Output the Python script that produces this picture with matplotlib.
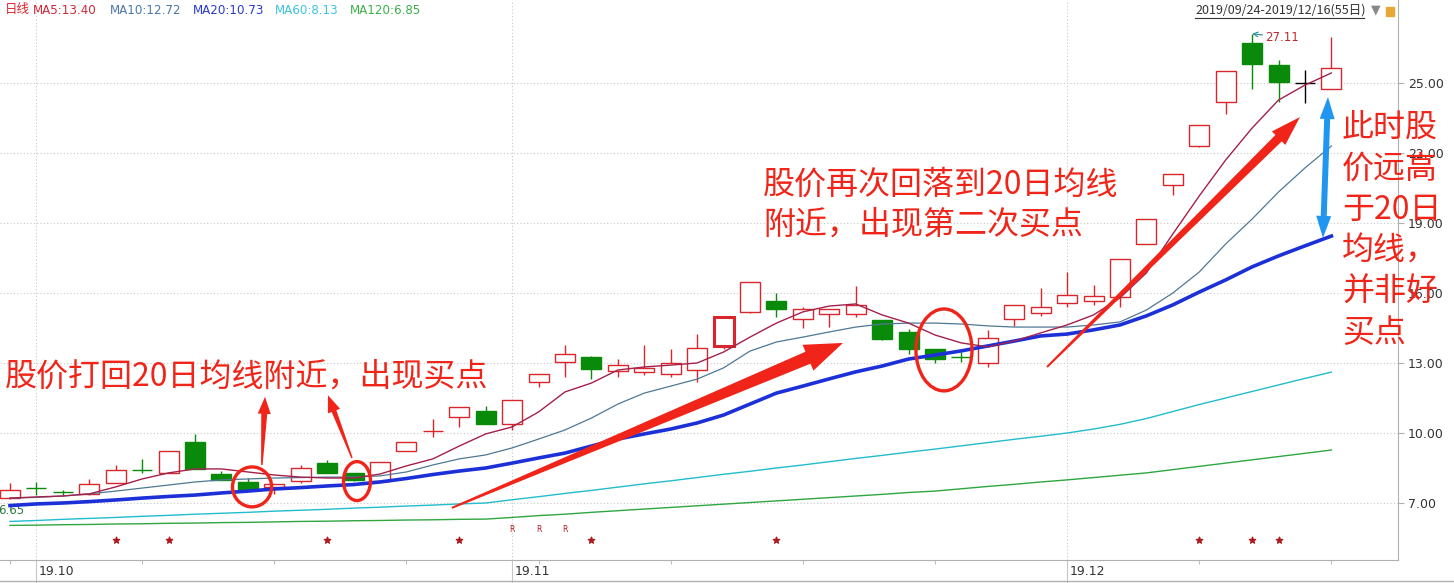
import numpy as np
import matplotlib
matplotlib.use('Agg')
import matplotlib.pyplot as plt
import matplotlib.transforms as mtransforms
from matplotlib.patches import Ellipse, Polygon, Rectangle
from matplotlib.lines import Line2D

plt.rcParams['font.family'] = ['Noto Sans CJK SC', 'DejaVu Sans']

# daily candles, 2019-09-30 .. 2019-12-16
open_ = [7.21, 7.64, 7.48, 7.39, 7.86, 8.42, 8.29, 9.61, 8.24, 7.90,
         7.69, 7.94, 8.71, 8.29, 7.94, 9.23, 10.08, 10.69, 10.94, 10.39,
         12.19, 13.04, 13.26, 12.66, 12.61, 12.53, 12.70, 13.73, 15.19, 15.66,
         14.89, 15.10, 15.10, 14.84, 14.33, 13.60, 13.27, 13.00, 14.89, 15.14,
         15.57, 15.66, 15.83, 18.10, 20.63, 22.30, 24.19, 26.71, 25.77, 25.00, 24.74]
close = [7.56, 7.63, 7.47, 7.81, 8.41, 8.41, 9.23, 8.46, 7.99, 7.60,
         7.81, 8.50, 8.29, 7.99, 8.76, 9.61, 10.09, 11.11, 10.39, 11.41,
         12.53, 13.39, 12.74, 12.91, 12.79, 13.00, 13.64, 14.97, 16.47, 15.31,
         15.31, 15.31, 15.49, 14.03, 13.60, 13.17, 13.26, 14.07, 15.49, 15.40,
         15.91, 15.87, 17.46, 19.17, 21.10, 23.20, 25.51, 25.81, 25.04, 25.00, 25.64]
high = [7.86, 7.90, 7.56, 8.03, 8.63, 8.89, 9.23, 9.96, 8.37, 8.07,
        7.81, 8.63, 8.84, 8.29, 8.76, 9.61, 10.60, 11.11, 11.16, 11.41,
        12.53, 13.77, 13.30, 13.17, 13.77, 13.60, 14.24, 14.97, 16.47, 16.00,
        15.40, 15.31, 16.30, 14.84, 14.46, 13.60, 13.47, 14.41, 15.49, 16.21,
        16.90, 16.34, 17.46, 19.17, 21.10, 23.20, 25.51, 27.11, 25.99, 25.56, 26.97]
low = [7.18, 7.34, 7.30, 7.34, 7.86, 8.29, 8.29, 8.46, 7.99, 7.60,
       7.39, 7.86, 8.29, 7.95, 7.94, 9.23, 9.83, 10.26, 10.39, 10.13,
       11.97, 12.40, 12.31, 12.40, 12.49, 12.40, 12.19, 13.60, 15.14, 14.97,
       14.50, 14.54, 14.97, 13.99, 13.39, 13.00, 13.04, 12.83, 14.59, 15.01,
       15.40, 15.49, 15.40, 18.10, 20.20, 22.26, 23.67, 24.74, 24.19, 24.14, 24.74]

ma5 = [7.21, 7.26, 7.30, 7.39, 7.69, 8.03, 8.29, 8.46, 8.46, 8.33,
       8.20, 8.11, 8.07, 8.07, 8.24, 8.59, 8.89, 9.44, 9.96, 10.26,
       10.90, 11.76, 12.14, 12.70, 12.83, 12.91, 13.00, 13.47, 14.11, 14.71,
       15.19, 15.44, 15.53, 15.06, 14.71, 14.20, 13.86, 13.69, 13.94, 14.29,
       14.63, 15.06, 15.79, 16.86, 18.53, 20.16, 21.70, 23.07, 24.27, 24.91, 25.43]
ma10 = [7.21, 7.24, 7.30, 7.39, 7.51, 7.64, 7.77, 7.90, 7.99, 8.03,
        8.07, 8.09, 8.11, 8.11, 8.16, 8.33, 8.63, 8.89, 9.06, 9.36,
        9.74, 10.13, 10.64, 11.24, 11.71, 12.01, 12.31, 12.79, 13.51, 13.90,
        14.11, 14.33, 14.54, 14.67, 14.71, 14.71, 14.67, 14.59, 14.54, 14.54,
        14.54, 14.63, 14.76, 15.27, 16.00, 16.90, 18.10, 19.17, 20.33, 21.36, 22.30]
ma20 = [6.89, 6.96, 7.00, 7.06, 7.13, 7.21, 7.28, 7.34, 7.43, 7.51,
        7.60, 7.66, 7.73, 7.79, 7.90, 8.05, 8.22, 8.37, 8.50, 8.71,
        8.93, 9.14, 9.44, 9.74, 9.96, 10.17, 10.43, 10.77, 11.24, 11.71,
        12.01, 12.32, 12.62, 12.87, 13.17, 13.34, 13.52, 13.73, 13.94, 14.16,
        14.24, 14.42, 14.63, 15.02, 15.49, 16.04, 16.56, 17.12, 17.59, 18.02, 18.44]
ma60 = [6.21, 6.25, 6.30, 6.34, 6.38, 6.43, 6.47, 6.52, 6.56, 6.60,
        6.65, 6.69, 6.73, 6.78, 6.82, 6.87, 6.91, 6.96, 7.00, 7.14,
        7.27, 7.41, 7.54, 7.68, 7.82, 7.95, 8.09, 8.23, 8.36, 8.50,
        8.63, 8.77, 8.91, 9.04, 9.18, 9.31, 9.45, 9.59, 9.73, 9.86,
        10.00, 10.17, 10.37, 10.62, 10.92, 11.22, 11.50, 11.78, 12.06, 12.34, 12.61]
ma120 = [6.04, 6.05, 6.07, 6.08, 6.10, 6.11, 6.13, 6.14, 6.16, 6.17,
         6.19, 6.21, 6.22, 6.24, 6.25, 6.27, 6.28, 6.30, 6.31, 6.38,
         6.46, 6.52, 6.60, 6.67, 6.74, 6.81, 6.88, 6.95, 7.02, 7.09,
         7.16, 7.23, 7.30, 7.37, 7.45, 7.51, 7.61, 7.71, 7.80, 7.90,
         7.99, 8.09, 8.19, 8.29, 8.43, 8.57, 8.71, 8.85, 8.99, 9.13, 9.27]

month_idx = [1, 19, 40]
month_labels = ['19.10', '19.11', '19.12']
price_ticks = [7, 10, 13, 16, 19, 22, 25]
star_idx = [4, 6, 12, 17, 22, 29, 45, 47, 48]
r_idx = [19, 20, 21]
selected = 27

RED = '#d9262c'
GREEN = '#0a8a0a'
ANN = '#f02418'

x = np.arange(len(close))
o = np.array(open_); c = np.array(close)
colors = np.where(c > o, RED, np.where(c < o, GREEN, 'black'))

fig = plt.figure(figsize=(14.54, 5.83), dpi=100)
ax = fig.add_axes([0, 23 / 583, 1398 / 1454, 560 / 583])
ax.set_xlim(-0.378, 52.52)
ax.set_ylim(4.557, 28.557)

# grid
for p in price_ticks:
    ax.axhline(p, color='#c8c8c8', lw=0.8, ls=(0, (1, 2)), zorder=0)
for m in month_idx:
    ax.axvline(m, color='#c8c8c8', lw=0.8, ls=(0, (1, 2)), zorder=0)

# candles
ax.vlines(x, low, high, colors=colors, lw=1, zorder=2)
face = np.where(c > o, 'white', colors)
lws = np.ones(len(x))
lws[selected] = 2.2
ax.bar(x, np.abs(c - o), bottom=np.minimum(o, c), width=0.76,
       color=face, edgecolor=colors, linewidth=lws, zorder=3)

# moving averages
ax.plot(x, ma120, color='#2fa640', lw=1, zorder=4)
ax.plot(x, ma60, color='#22bccc', lw=1, zorder=4)
ax.plot(x, ma20, color='#1c30d8', lw=2.6, zorder=4)
ax.plot(x, ma10, color='#4f7896', lw=0.9, zorder=4)
ax.plot(x, ma5, color='#a3204c', lw=1, zorder=4)

# signal marks
bt = mtransforms.blended_transform_factory(ax.transData, ax.transAxes)
ax.scatter(star_idx, [0.036] * len(star_idx), marker='*', s=22, color='#b0181c',
           transform=bt, zorder=5, clip_on=False)
for i in r_idx:
    ax.text(i, 0.054, 'R', transform=bt, fontsize=5.5, color='#b0181c',
            ha='center', va='center', family='DejaVu Sans')

# axes styling
for s in ['top', 'left']:
    ax.spines[s].set_visible(False)
ax.spines['right'].set_color('#b0b0b0')
ax.spines['bottom'].set_color('#b0b0b0')
ax.yaxis.tick_right()
ax.set_yticks(price_ticks)
ax.set_yticklabels(['%.2f' % p for p in price_ticks], family='DejaVu Sans')
ax.tick_params(axis='y', length=4, color='#b0b0b0', labelsize=9, labelcolor='#333333', pad=3)
ax.set_xticks(month_idx)
ax.set_xticklabels([])
ax.tick_params(axis='x', length=23, color='#c8c8c8', width=0.8)
ax.set_xticks(np.arange(0, len(x), 5), minor=True)
ax.tick_params(axis='x', which='minor', length=3, color='#b0b0b0')
for m, lab in zip(month_idx, month_labels):
    ax.text(m + 0.1, -0.021, lab, transform=bt, fontsize=9, color='#333333',
            ha='left', va='center', family='DejaVu Sans')

# high / low labels
ax.annotate('27.11', xy=(47, 27.11), xytext=(47.5, 26.97), fontsize=8.5, color='#c0282c',
            va='center', family='DejaVu Sans',
            arrowprops=dict(arrowstyle='->', color='#2a8a9a', lw=0.8, shrinkA=0, shrinkB=0))
ax.text(-0.45, 6.66, '6.65', fontsize=8.5, color='#2a7a3a', va='center', family='DejaVu Sans')


def fat_arrow(start, end, w0, w1, head_w, head_len, color, double=False):
    p0 = ax.transData.transform(start)
    p1 = ax.transData.transform(end)
    d = p1 - p0
    u = d / np.hypot(*d)
    n = np.array([-u[1], u[0]])
    hb = p1 - u * head_len
    if double:
        ha = p0 + u * head_len
        pts = [p0, ha + n * head_w / 2, ha + n * w0 / 2, hb + n * w1 / 2, hb + n * head_w / 2, p1,
               hb - n * head_w / 2, hb - n * w1 / 2, ha - n * w0 / 2, ha - n * head_w / 2]
    else:
        pts = [p0 + n * w0 / 2, hb + n * w1 / 2, hb + n * head_w / 2, p1,
               hb - n * head_w / 2, hb - n * w1 / 2, p0 - n * w0 / 2]
    poly = Polygon(ax.transData.inverted().transform(pts), closed=True,
                   facecolor=color, edgecolor='none', zorder=7, clip_on=False)
    ax.add_patch(poly)


fat_arrow((9.53, 8.63), (9.65, 11.55), 1.5, 6, 13, 17, ANN)
fat_arrow((12.94, 8.93), (12.03, 11.62), 1.5, 5, 13, 17, ANN)
fat_arrow((16.72, 6.79), (31.52, 13.86), 2, 13, 28, 38, ANN)
fat_arrow((39.24, 12.83), (48.81, 23.54), 2, 9, 19, 30, ANN)
fat_arrow((49.68, 18.36), (49.87, 24.40), 6, 6, 15, 22, '#2196f0', double=True)

for cx, cy, w, h in [(9.16, 7.69, 1.48, 1.71), (13.13, 7.94, 1.02, 1.67), (35.34, 13.56, 2.12, 3.51)]:
    ax.add_patch(Ellipse((cx, cy), w, h, fill=False, edgecolor=ANN, lw=2.4, zorder=7))

ax.text(-0.19, 12.40, '股价打回20日均线附近，出现买点', fontsize=23, color=ANN,
        ha='left', va='center', zorder=8)
ax.text(28.49, 19.77, '股价再次回落到20日均线\n附近，出现第二次买点', fontsize=23, color=ANN,
        ha='left', va='center', linespacing=1.32, zorder=8)
ax.text(50.40, 18.68, '此时股\n价远高\n于20日\n均线，\n并非好\n买点', fontsize=23, color=ANN,
        ha='left', va='center', linespacing=1.36, zorder=8, clip_on=False)

# header
hy = 1 - 10 / 583
fig.text(5 / 1454, hy, '日线', fontsize=9, color='#e0202a', va='center')
for xp, lab, col in [(33, 'MA5:13.40', '#d02838'), (110, 'MA10:12.72', '#4a78a8'),
                     (193, 'MA20:10.73', '#2a3ad0'), (275, 'MA60:8.13', '#3cc4e0'),
                     (350, 'MA120:6.85', '#3cb048')]:
    fig.text(xp / 1454, hy, lab, fontsize=8.6, color=col, va='center', family='DejaVu Sans')
fig.text(1195 / 1454, hy, '2019/09/24-2019/12/16(55日)', fontsize=9, color='#333333', va='center')
fig.add_artist(Line2D([1195 / 1454, 1364 / 1454], [1 - 18 / 583] * 2, color='#333333', lw=0.8))
fig.text(1371 / 1454, hy, '▼', fontsize=9, color='#888888', va='center', family='DejaVu Sans')
fig.add_artist(Rectangle((1386 / 1454, 1 - 16 / 583), 8 / 1454, 9 / 583, color='#e8a838'))
fig.add_artist(Line2D([0, 1], [1 - 581 / 583] * 2, color='#b0b0b0', lw=1))

fig.savefig('out.png', dpi=100)
